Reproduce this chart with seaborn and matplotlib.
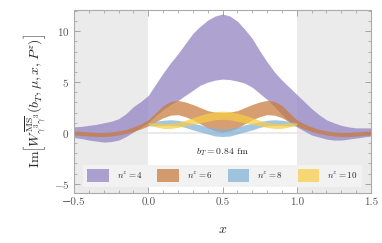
import numpy as np
import matplotlib
matplotlib.use("Agg")
import matplotlib.pyplot as plt
from matplotlib.patches import Patch
import seaborn as sns

# x grid (step 0.05) and band edges
x_full = [-0.5, -0.45, -0.4, -0.35, -0.3, -0.25, -0.2, -0.15, -0.1, -0.05,
          0.0, 0.05, 0.1, 0.15, 0.2, 0.25, 0.3, 0.35, 0.4, 0.45,
          0.5, 0.55, 0.6, 0.65, 0.7, 0.75, 0.8, 0.85, 0.9, 0.95,
          1.0, 1.05, 1.1, 1.15, 1.2, 1.25, 1.3, 1.35, 1.4, 1.45, 1.5]
x_mid = [0.0, 0.05, 0.1, 0.15, 0.2, 0.25, 0.3, 0.35, 0.4, 0.45,
         0.5, 0.55, 0.6, 0.65, 0.7, 0.75, 0.8, 0.85, 0.9, 0.95, 1.0]

n4_lo = [-0.45, -0.55, -0.7, -0.8, -0.9, -0.85, -0.7, -0.35, 0.1, 0.55,
         1.0, 1.7, 2.3, 2.8, 3.2, 3.7, 4.2, 4.7, 5.0, 5.2,
         5.3, 5.25, 5.1, 4.9, 4.5, 3.9, 3.3, 2.6, 1.8, 1.1,
         0.6, 0.2, -0.2, -0.4, -0.6, -0.7, -0.7, -0.6, -0.5, -0.4, -0.3]
n4_hi = [0.6, 0.65, 0.75, 0.85, 1.0, 1.15, 1.4, 1.9, 2.6, 3.1,
         3.7, 4.8, 5.9, 6.9, 7.8, 8.8, 9.8, 10.5, 11.1, 11.5,
         11.7, 11.5, 11.0, 10.2, 9.3, 8.1, 7.0, 6.0, 5.2, 4.5,
         3.8, 3.1, 2.4, 1.8, 1.3, 1.0, 0.75, 0.6, 0.5, 0.5, 0.5]

n6_lo = [-0.2, -0.25, -0.3, -0.35, -0.35, -0.3, -0.2, -0.05, 0.15, 0.4,
         0.7, 1.1, 1.5, 1.75, 1.8, 1.6, 1.3, 0.9, 0.5, 0.2,
         0.1, 0.2, 0.5, 0.9, 1.3, 1.6, 1.8, 1.75, 1.5, 1.1,
         0.7, 0.4, 0.15, -0.05, -0.2, -0.3, -0.35, -0.35, -0.3, -0.25, -0.2]
n6_hi = [0.2, 0.15, 0.1, 0.05, 0.05, 0.1, 0.2, 0.35, 0.6, 0.9,
         1.3, 2.0, 2.7, 3.1, 3.2, 3.05, 2.8, 2.5, 2.2, 2.05,
         2.0, 2.05, 2.2, 2.5, 2.8, 3.05, 3.2, 3.1, 2.7, 2.0,
         1.3, 0.9, 0.6, 0.35, 0.2, 0.1, 0.05, 0.05, 0.1, 0.15, 0.2]

n8_lo = [0.7, 0.7, 0.75, 0.75, 0.7, 0.55, 0.3, 0.1, -0.1, -0.3,
         -0.35, -0.3, -0.1, 0.1, 0.3, 0.55, 0.7, 0.75, 0.75, 0.7, 0.7]
n8_hi = [0.95, 1.15, 1.25, 1.3, 1.25, 1.1, 0.95, 0.8, 0.6, 0.45,
         0.4, 0.45, 0.6, 0.8, 0.95, 1.1, 1.25, 1.3, 1.25, 1.15, 0.95]

n10_lo = [0.8, 0.6, 0.45, 0.45, 0.55, 0.7, 0.85, 1.0, 1.15, 1.3,
          1.35, 1.3, 1.15, 1.0, 0.85, 0.7, 0.55, 0.45, 0.45, 0.6, 0.8]
n10_hi = [1.0, 1.0, 0.95, 0.95, 1.05, 1.25, 1.5, 1.75, 1.95, 2.1,
          2.15, 2.1, 1.95, 1.75, 1.5, 1.25, 1.05, 0.95, 0.95, 1.0, 1.0]

labels = [r"$n^z = 4$", r"$n^z = 6$", r"$n^z = 8$", r"$n^z = 10$"]
colors = ["#8f7fc0", "#c87a3a", "#7fb0d6", "#f8cc45"]

sns.set_style("ticks")
plt.rcParams["font.family"] = ["cmr10", "DejaVu Serif"]
plt.rcParams["mathtext.fontset"] = "cm"
plt.rcParams["axes.formatter.use_mathtext"] = True

fig = plt.figure(figsize=(3.82, 2.43), dpi=100)
ax = fig.add_axes([0.194, 0.206, 0.777, 0.753])

# shaded regions outside 0 < x < 1
ax.axvspan(-0.5, 0.0, color="#ebebeb", lw=0, zorder=0)
ax.axvspan(1.0, 1.5, color="#ebebeb", lw=0, zorder=0)
ax.axhline(0, color="#e6e6e6", lw=1.2, zorder=0.5)

bands = [(x_full, n4_lo, n4_hi), (x_full, n6_lo, n6_hi),
         (x_mid, n8_lo, n8_hi), (x_mid, n10_lo, n10_hi)]
for (xs, lo, hi), c in zip(bands, colors):
    ax.fill_between(xs, lo, hi, color=c, alpha=0.72, lw=0, zorder=2)

ax.text(0.5, -1.9, r"$b_T = 0.84$ fm", ha="center", va="center", fontsize=7)

ax.set_xlim(-0.5, 1.5)
ax.set_ylim(-5.9, 12.1)
ax.set_xticks([-0.5, 0.0, 0.5, 1.0, 1.5])
ax.set_yticks([-5, 0, 5, 10])
ax.set_xticks(np.arange(-0.5, 1.51, 0.1), minor=True)
ax.set_yticks(np.arange(-5, 12.1, 1), minor=True)
ax.xaxis.set_major_formatter(plt.FuncFormatter(lambda v, p: f"{v:.1f}".replace("-", "\u2212")))
ax.tick_params(which="both", direction="in", top=True, right=True,
               color="#999999", labelcolor="#555555", labelsize=8)
ax.tick_params(which="major", length=4, width=0.6)
ax.tick_params(which="minor", length=2, width=0.5)
for s in ax.spines.values():
    s.set_color("#aaaaaa")
    s.set_linewidth(0.8)

ax.set_xlabel(r"$x$", fontsize=10, labelpad=12)
ax.set_ylabel(r"$\mathrm{Im}\left[W^{\overline{\mathrm{MS}}}_{\gamma^3\gamma^3}(b_T,\mu,x,P^z)\right]$",
              fontsize=10, labelpad=4)

handles = [Patch(facecolor=c, alpha=0.72, lw=0) for c in colors]
leg = ax.legend(handles, labels, ncol=4, loc="lower center",
                bbox_to_anchor=(0.5, 0.025), frameon=True, fontsize=6.5,
                handlelength=2.4, handleheight=1.9, columnspacing=1.6,
                handletextpad=0.9, borderpad=0.45, borderaxespad=0.2,
                fancybox=False)
leg.get_frame().set_facecolor("#f2f2f2")
leg.get_frame().set_edgecolor("none")
leg.get_frame().set_alpha(1)

fig.savefig("out.png", dpi=100)
